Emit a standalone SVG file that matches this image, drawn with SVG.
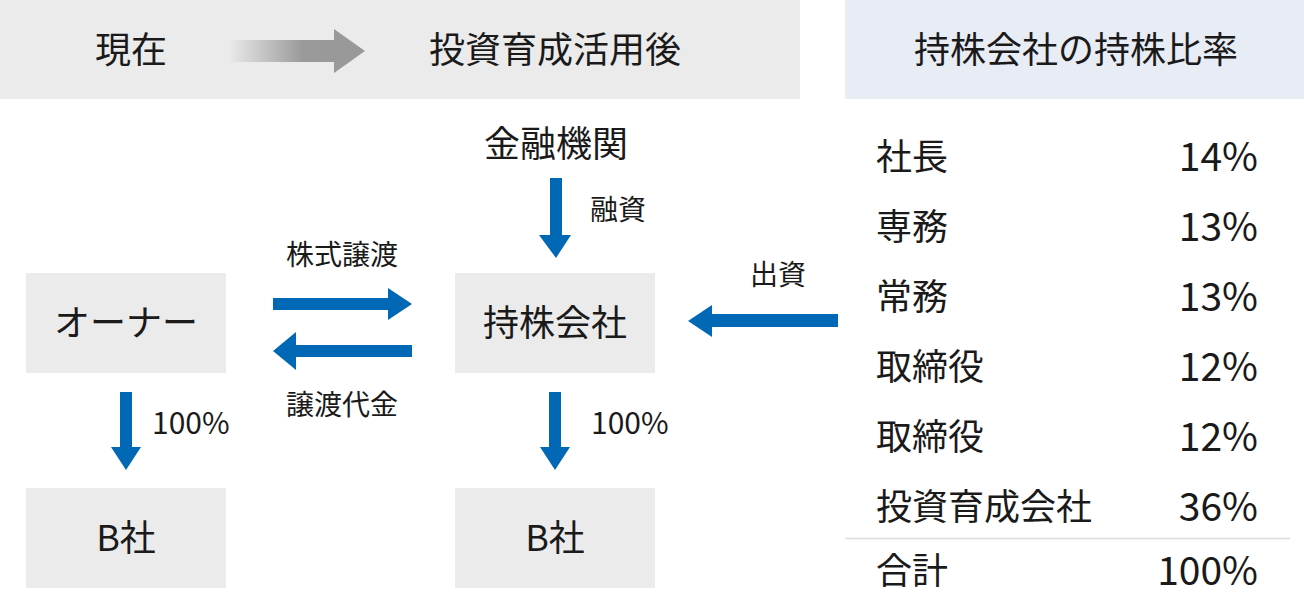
<svg xmlns="http://www.w3.org/2000/svg" width="1304" height="593" viewBox="0 0 1304 593">
<style>
text{font-family:"Noto Sans CJK JP","Noto Sans",sans-serif;fill:#1a1a1a;dominant-baseline:central}
.big{font-size:36px}
.pct{font-size:39px}
.sm{font-size:28px}
.smn{font-size:30px}
.mid{text-anchor:middle}
.end{text-anchor:end}
.box{fill:#ebebeb}
.arr{fill:#0068b4}
</style>
<defs>
<linearGradient id="g" x1="228" y1="0" x2="335" y2="0" gradientUnits="userSpaceOnUse">
<stop offset="0" stop-color="#ebebeb"/>
<stop offset="0.7" stop-color="#9a9a9a"/>
<stop offset="1" stop-color="#999"/>
</linearGradient>
</defs>
<g id="header-left">
<rect x="0" y="0" width="800" height="99" fill="#ebebeb"/>
<text class="big mid" x="131" y="47">現在</text>
<path d="M228 40 H334 V29 L365 51 L334 73 V62 H228 Z" fill="url(#g)"/>
<text class="big mid" x="555" y="47">投資育成活用後</text>
</g>
<g id="header-right">
<rect x="845" y="0" width="459" height="99" fill="#e8ecf5"/>
<text class="big mid" x="1076" y="47">持株会社の持株比率</text>
</g>
<g id="node-bank"><text class="big mid" x="556" y="141">金融機関</text></g>
<g id="node-owner"><rect class="box" x="26" y="273" width="200" height="100"/><text class="big mid" x="126" y="320">オーナー</text></g>
<g id="node-holding"><rect class="box" x="455" y="273" width="200" height="100"/><text class="big mid" x="555" y="320">持株会社</text></g>
<g id="node-b-left"><rect class="box" x="26" y="488" width="200" height="100"/><text class="big mid" x="126" y="535">B社</text></g>
<g id="node-b-right"><rect class="box" x="455" y="488" width="200" height="100"/><text class="big mid" x="555" y="535">B社</text></g>
<g id="connectors">
<path class="arr" d="M550 178 H562 V235 H571 L556 258 L539 235 H550 Z"/>
<text class="sm" x="590" y="208">融資</text>
<path class="arr" d="M273 298 H388 V288 L412 304 L388 320 V310 H273 Z"/>
<text class="sm mid" x="342" y="253">株式譲渡</text>
<path class="arr" d="M412 345 H296 V332 L273 351 L296 370 V357 H412 Z"/>
<text class="sm mid" x="342" y="403">譲渡代金</text>
<path class="arr" d="M838 314 H712 V305 L688 321 L712 337 V327 H838 Z"/>
<text class="sm" x="750" y="273">出資</text>
<path class="arr" d="M120 392 H132 V447 H141 L126 470 L111 447 H120 Z"/>
<text class="smn" x="152" y="421">100%</text>
<path class="arr" d="M549 392 H561 V447 H570 L555 470 L540 447 H549 Z"/>
<text class="smn" x="591" y="421">100%</text>
</g>
<g id="table">
<text class="big" x="876" y="154">社長</text><text class="pct end" x="1258" y="154">14%</text>
<text class="big" x="876" y="224">専務</text><text class="pct end" x="1258" y="224">13%</text>
<text class="big" x="876" y="294">常務</text><text class="pct end" x="1258" y="294">13%</text>
<text class="big" x="876" y="364">取締役</text><text class="pct end" x="1258" y="364">12%</text>
<text class="big" x="876" y="434">取締役</text><text class="pct end" x="1258" y="434">12%</text>
<text class="big" x="876" y="504">投資育成会社</text><text class="pct end" x="1258" y="504">36%</text>
<line x1="845" y1="538.5" x2="1290" y2="538.5" stroke="#dcdcdc" stroke-width="1.5"/>
<text class="big" x="876" y="568">合計</text><text class="pct end" x="1258" y="568">100%</text>
</g>
</svg>
